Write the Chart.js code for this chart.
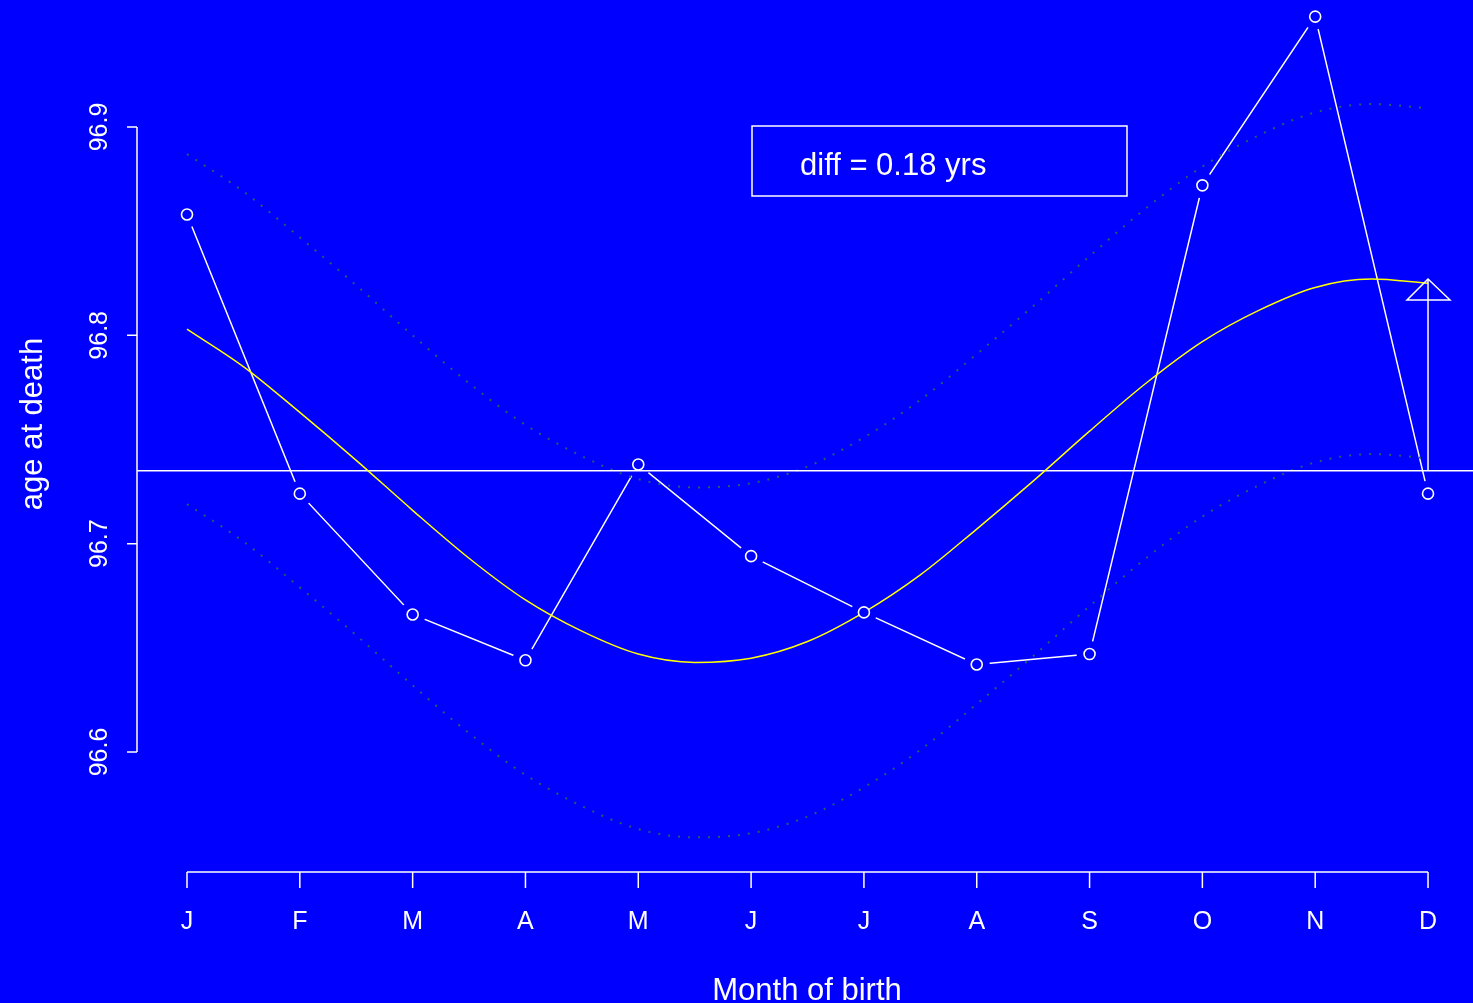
<!DOCTYPE html>
<html>
<head>
<meta charset="utf-8">
<script src="https://cdn.jsdelivr.net/npm/chart.js@4.4.1/dist/chart.umd.min.js"></script>
<style>
  html, body { margin: 0; padding: 0; background: #0000ff; overflow: hidden; }
  canvas { display: block; }
</style>
</head>
<body>
<canvas id="chartCanvas" width="1473" height="1003"></canvas>
<script>
// month labels and observed mean age at death per birth month
const months = ["J", "F", "M", "A", "M", "J", "J", "A", "S", "O", "N", "D"];
const ageAtDeath = [96.858, 96.724, 96.666, 96.644, 96.738, 96.694, 96.667, 96.642, 96.647, 96.872, 96.953, 96.724];
const overallMean = 96.735;

// fitted seasonal curve and its band, read every half month
const fitX = [0, 0.5, 1, 1.5, 2, 2.5, 3, 3.5, 4, 4.5, 5, 5.5, 6, 6.5, 7, 7.5, 8, 8.5, 9, 9.5, 10, 10.5, 11];
const fitCurve = [96.803, 96.785, 96.763, 96.740, 96.716, 96.693, 96.673, 96.658, 96.647, 96.643, 96.645, 96.653,
                  96.667, 96.685, 96.707, 96.730, 96.754, 96.777, 96.797, 96.812, 96.823, 96.827, 96.825];
const bandUpper = [96.887, 96.869, 96.847, 96.824, 96.800, 96.777, 96.757, 96.742, 96.731, 96.727, 96.729, 96.737,
                   96.751, 96.769, 96.791, 96.814, 96.838, 96.861, 96.881, 96.896, 96.907, 96.911, 96.909];
const bandLower = [96.719, 96.701, 96.679, 96.656, 96.632, 96.609, 96.589, 96.574, 96.563, 96.559, 96.561, 96.569,
                   96.583, 96.601, 96.623, 96.646, 96.670, 96.693, 96.713, 96.728, 96.739, 96.743, 96.741];

const yTicks = [96.6, 96.7, 96.8, 96.9];
const diffText = "diff = 0.18 yrs";
const arrowFrom = overallMean;
const arrowTo = 96.827;

const FONT = "'Liberation Sans', Arial, sans-serif";
const BLUE = "#0000ff";
const WHITE = "#ffffff";

const obsPoints = ageAtDeath.map((v, i) => ({ x: i, y: v }));
const fitPoints = fitCurve.map((v, i) => ({ x: fitX[i], y: v }));
const upperPoints = bandUpper.map((v, i) => ({ x: fitX[i], y: v }));
const lowerPoints = bandLower.map((v, i) => ({ x: fitX[i], y: v }));
const meanPoints = [{ x: -0.443, y: overallMean }, { x: 11.4, y: overallMean }];

// R style axes, legend box and arrow
const rStyle = {
  id: "rStyle",
  beforeDraw(chart) {
    const ctx = chart.ctx;
    ctx.save();
    ctx.fillStyle = BLUE;
    ctx.fillRect(0, 0, chart.width, chart.height);
    ctx.restore();
  },
  afterDatasetsDraw(chart) {
    const ctx = chart.ctx;
    const xs = chart.scales.x;
    const ys = chart.scales.y;
    ctx.save();
    ctx.strokeStyle = WHITE;
    ctx.fillStyle = WHITE;
    ctx.lineWidth = 1.5;

    // arrow at December from the mean up to the fitted peak
    const ax = xs.getPixelForValue(11);
    const a0 = ys.getPixelForValue(arrowFrom);
    const a1 = ys.getPixelForValue(arrowTo);
    ctx.beginPath();
    ctx.moveTo(ax, a0);
    ctx.lineTo(ax, a1);
    ctx.stroke();
    ctx.beginPath();
    ctx.moveTo(ax, a1);
    ctx.lineTo(ax - 21, a1 + 21);
    ctx.lineTo(ax + 22, a1 + 21);
    ctx.closePath();
    ctx.stroke();

    // y axis
    const yx = 137;
    const yTop = ys.getPixelForValue(yTicks[yTicks.length - 1]);
    const yBot = ys.getPixelForValue(yTicks[0]);
    ctx.beginPath();
    ctx.moveTo(yx, yTop);
    ctx.lineTo(yx, yBot);
    yTicks.forEach(t => {
      const py = ys.getPixelForValue(t);
      ctx.moveTo(yx, py);
      ctx.lineTo(yx - 10, py);
    });
    ctx.stroke();
    ctx.font = "25px " + FONT;
    ctx.textAlign = "center";
    ctx.textBaseline = "alphabetic";
    yTicks.forEach(t => {
      const py = ys.getPixelForValue(t);
      ctx.save();
      ctx.translate(107, py);
      ctx.rotate(-Math.PI / 2);
      ctx.fillText(t.toFixed(1), 0, 0);
      ctx.restore();
    });

    // x axis
    const xy = 872;
    ctx.beginPath();
    ctx.moveTo(xs.getPixelForValue(0), xy);
    ctx.lineTo(xs.getPixelForValue(months.length - 1), xy);
    months.forEach((m, i) => {
      const px = xs.getPixelForValue(i);
      ctx.moveTo(px, xy);
      ctx.lineTo(px, xy + 16);
    });
    ctx.stroke();
    ctx.font = "25px " + FONT;
    months.forEach((m, i) => {
      ctx.fillText(m, xs.getPixelForValue(i), 929);
    });

    // axis titles
    ctx.font = "31px " + FONT;
    ctx.fillText("Month of birth", 807, 1000);
    ctx.save();
    ctx.translate(42, 424);
    ctx.rotate(-Math.PI / 2);
    ctx.fillText("age at death", 0, 0);
    ctx.restore();

    // legend box
    ctx.strokeRect(752, 126, 375, 70);
    ctx.textAlign = "left";
    ctx.font = "31px " + FONT;
    ctx.fillText(diffText, 800, 175);
    ctx.restore();
  }
};

new Chart(document.getElementById("chartCanvas"), {
  type: "line",
  data: {
    datasets: [
      { // open circle markers
        data: obsPoints, showLine: false,
        pointRadius: 5.5, pointBorderWidth: 1.6,
        pointBorderColor: WHITE, pointBackgroundColor: BLUE
      },
      { // fitted curve
        data: fitPoints, borderColor: "#ffff00", borderWidth: 1.5,
        pointRadius: 0, tension: 0.4, cubicInterpolationMode: "monotone"
      },
      { // overall mean
        data: meanPoints, borderColor: WHITE, borderWidth: 1.5, pointRadius: 0
      },
      { // upper band
        data: upperPoints, borderColor: "#21606a", borderWidth: 2,
        borderDash: [2, 8], pointRadius: 0, cubicInterpolationMode: "monotone"
      },
      { // lower band
        data: lowerPoints, borderColor: "#21606a", borderWidth: 2,
        borderDash: [2, 8], pointRadius: 0, cubicInterpolationMode: "monotone"
      },
      { // gaps around the points, like type = "b"
        data: obsPoints, showLine: false,
        pointRadius: 13, pointBorderWidth: 0,
        pointBorderColor: BLUE, pointBackgroundColor: BLUE
      },
      { // observed monthly values
        data: obsPoints, borderColor: WHITE, borderWidth: 1.5,
        pointRadius: 0, tension: 0
      }
    ]
  },
  options: {
    responsive: false,
    animation: false,
    events: [],
    layout: { padding: 0, autoPadding: false },
    plugins: { legend: { display: false }, tooltip: { enabled: false } },
    scales: {
      x: { type: "linear", display: false, min: -1.6575, max: 11.3987 },
      y: { type: "linear", display: false, min: 96.4795, max: 96.96096 }
    }
  },
  plugins: [rStyle]
});
</script>
</body>
</html>
